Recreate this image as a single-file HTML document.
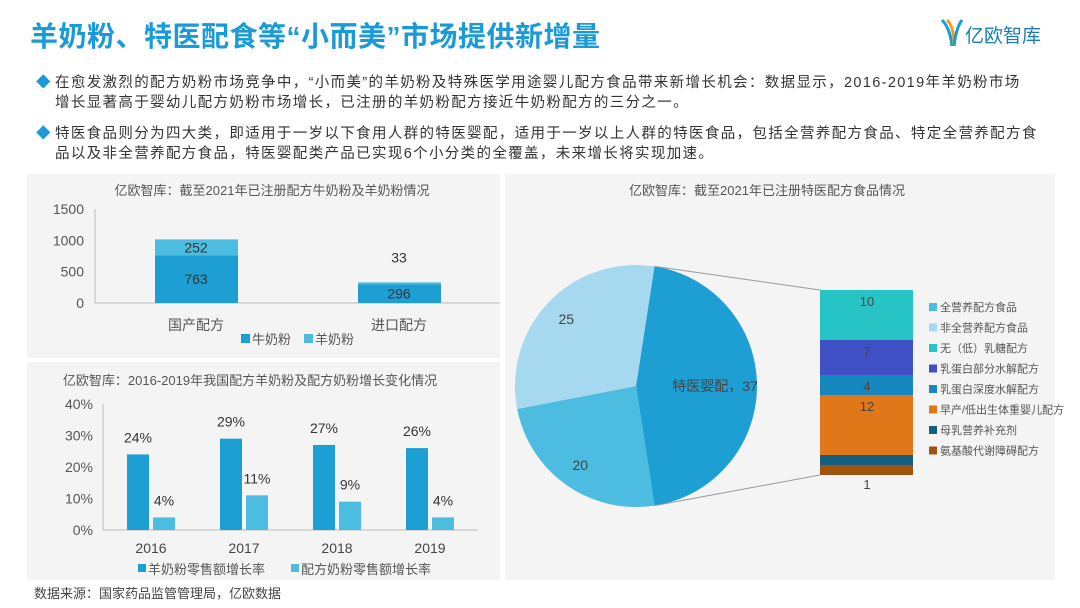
<!DOCTYPE html>
<html><head><meta charset="utf-8">
<style>
body{margin:0;width:1080px;height:608px;background:#fff;font-family:"Liberation Sans","Noto Sans CJK SC",sans-serif;overflow:hidden;position:relative;color:#333}
.abs{position:absolute}
.title{left:30px;top:15px;font-size:28px;font-weight:bold;color:#1a9ad6;letter-spacing:0.5px;white-space:nowrap}
.bul{left:36px;font-size:14.5px;line-height:20px;color:#333;width:1040px;white-space:nowrap;letter-spacing:1.35px}
.bul span.d{color:#1a9ad6;position:absolute;left:0;top:0}
.bul div{margin-left:19px}
.panel{background:#f4f4f4}
svg text{font-family:"Liberation Sans","Noto Sans CJK SC",sans-serif}
</style></head><body>
<div class="abs title">羊奶粉、特医配食等“小而美”市场提供新增量</div>
<div class="abs" style="left:940px;top:18px;width:115px;height:30px">
<svg width="115" height="30"><path d="M2 2 Q10 10 12 28" stroke="#1a9ad6" stroke-width="3" fill="none"/><path d="M7 2 Q14 8 14 28" stroke="#f0a020" stroke-width="3" fill="none"/><path d="M22 2 Q16 10 14 28" stroke="#1a9ad6" stroke-width="3" fill="none"/><text x="25" y="24" font-size="19" fill="#1a7ab8">亿欧智库</text></svg></div>
<div class="abs bul" style="top:73px"><span class="d">◆</span><div>在愈发激烈的配方奶粉市场竞争中，“小而美”的羊奶粉及特殊医学用途婴儿配方食品带来新增长机会：数据显示，2016-2019年羊奶粉市场<br>增长显著高于婴幼儿配方奶粉市场增长，已注册的羊奶粉配方接近牛奶粉配方的三分之一。</div></div>
<div class="abs bul" style="top:124px"><span class="d">◆</span><div>特医食品则分为四大类，即适用于一岁以下食用人群的特医婴配，适用于一岁以上人群的特医食品，包括全营养配方食品、特定全营养配方食<br>品以及非全营养配方食品，特医婴配类产品已实现6个小分类的全覆盖，未来增长将实现加速。</div></div>

<div class="abs panel" style="left:27px;top:174px;width:473px;height:184px"></div>
<div class="abs panel" style="left:27px;top:362px;width:473px;height:218px"></div>
<div class="abs panel" style="left:505px;top:174px;width:550px;height:406px"></div>
<div class="abs" style="left:34px;top:583px;font-size:13px;color:#444">数据来源：国家药品监管管理局，亿欧数据</div>

<svg class="abs" style="left:0;top:0" width="1080" height="608" id="charts"></svg>
<script>
// Chart 1
const c1Cats=["国产配方","进口配方"];
const c1Cow=[763,296];
const c1Goat=[252,33];
const c1Ticks=[0,500,1000,1500];
// Chart 2
const c2Years=["2016","2017","2018","2019"];
const c2Goat=[24,29,27,26];
const c2Formula=[4,11,9,4];
const c2Ticks=[0,10,20,30,40];
// Pie (clockwise from top-right)
const pieLabels=["特医婴配","20","25"];
const pieVals=[37,20,25];
// Stack breakdown (bottom to top)
const stackNames=["氨基酸代谢障碍配方","母乳营养补充剂","早产/低出生体重婴儿配方","乳蛋白深度水解配方","乳蛋白部分水解配方","无（低）乳糖配方"];
const stackVals=[1,2,12,4,7,10];
const legendNames=["全营养配方食品","非全营养配方食品","无（低）乳糖配方","乳蛋白部分水解配方","乳蛋白深度水解配方","早产/低出生体重婴儿配方","母乳营养补充剂","氨基酸代谢障碍配方"];

const svg=document.getElementById('charts');
const NS="http://www.w3.org/2000/svg";
function mk(tag,attrs,parent){const e=document.createElementNS(NS,tag);for(const k in attrs)e.setAttribute(k,attrs[k]);(parent||svg).appendChild(e);return e;}
function txt(x,y,s,size,fill,anchor){const t=mk('text',{x:x,y:y,'font-size':size||13,fill:fill||'#555','text-anchor':anchor||'middle'});t.textContent=s;return t;}
const DARK="#1e9fd4",LIGHT="#4cbde0";

// ---- Chart 1
let t=txt(272,195,"亿欧智库：截至2021年已注册配方牛奶粉及羊奶粉情况",13,"#555");


const y1=v=>303-v*(94/1500);
mk('line',{x1:95,y1:y1(0),x2:500,y2:y1(0),stroke:'#bbb'});
mk('line',{x1:95,y1:y1(1500),x2:95,y2:y1(0),stroke:'#bbb'});
c1Ticks.forEach(v=>{const l=txt(84,y1(v)+5,String(v),14,"#555","end");

});
const x1=[155,358];
c1Cats.forEach((c,i)=>{
 const b=mk('rect',{x:x1[i],y:y1(c1Cow[i]),width:83,height:y1(0)-y1(c1Cow[i]),fill:DARK});
 
 
 const g=mk('rect',{x:x1[i],y:y1(c1Cow[i]+c1Goat[i]),width:83,height:y1(c1Cow[i])-y1(c1Cow[i]+c1Goat[i]),fill:LIGHT});
 
 
 txt(x1[i]+41,(y1(c1Cow[i])+y1(0))/2+5,String(c1Cow[i]),14,"#333");
 const gy=(c1Goat[i]<100)?y1(c1Cow[i]+c1Goat[i])-20:(y1(c1Cow[i]+c1Goat[i])+y1(c1Cow[i]))/2+5;
 txt(x1[i]+41,gy,String(c1Goat[i]),14,"#333");
 const cl=txt(x1[i]+41,330,c,14,"#555");
 
 
});
mk('rect',{x:241,y:334,width:9,height:9,fill:DARK});txt(252,344,"牛奶粉",13,"#555","start");
mk('rect',{x:304,y:334,width:9,height:9,fill:LIGHT});txt(315,344,"羊奶粉",13,"#555","start");

// ---- Chart 2
t=txt(250,385,"亿欧智库：2016-2019年我国配方羊奶粉及配方奶粉增长变化情况",13,"#555");


const y2=v=>530-v*(126/40);
mk('line',{x1:103,y1:y2(0),x2:478,y2:y2(0),stroke:'#bbb'});
mk('line',{x1:103,y1:y2(40),x2:103,y2:y2(0),stroke:'#bbb'});
c2Ticks.forEach(v=>{const l=txt(93,y2(v)+5,v+"%",14,"#555","end");

});
c2Years.forEach((yr,i)=>{
 const gx=127+i*93;
 const a=mk('rect',{x:gx,y:y2(c2Goat[i]),width:22,height:y2(0)-y2(c2Goat[i]),fill:DARK});
 
 
 const b=mk('rect',{x:gx+26,y:y2(c2Formula[i]),width:22,height:y2(0)-y2(c2Formula[i]),fill:LIGHT});
 
 
 txt(gx+11,y2(c2Goat[i])-12,c2Goat[i]+"%",14,"#333");
 txt(gx+37,y2(c2Formula[i])-12,c2Formula[i]+"%",14,"#333");
 const xl=txt(gx+24,553,yr,14,"#444");
 
 
});
mk('rect',{x:138,y:564,width:8,height:8,fill:DARK});txt(148,574,"羊奶粉零售额增长率",13,"#555","start");
mk('rect',{x:291,y:564,width:8,height:8,fill:LIGHT});txt(301,574,"配方奶粉零售额增长率",13,"#555","start");

// ---- Pie
t=txt(767,195,"亿欧智库：截至2021年已注册特医配方食品情况",13,"#555");


const cx=636,cy=386,r=121;
const pieColors=["#1e9fd4","#4cbde0","#a6d9f0"];
const tot=pieVals.reduce((a,b)=>a+b,0);
let ang=-pieVals[0]/tot*Math.PI;
const pt=(a,rr)=>[cx+rr*Math.cos(a),cy+rr*Math.sin(a)];
const sliceEnds=[];
pieVals.forEach((v,i)=>{
 const da=v/tot*2*Math.PI;const a0=ang,a1=ang+da;
 const p0=pt(a0,r),p1=pt(a1,r);
 const p=mk('path',{d:`M${cx},${cy}L${p0[0]},${p0[1]}A${r},${r} 0 ${da>Math.PI?1:0} 1 ${p1[0]},${p1[1]}Z`,fill:pieColors[i]});
 
 
 sliceEnds.push([p0,p1]);
 const m=(a0+a1)/2;const lp=pt(m,i==0?80:r*0.8);
 txt(i==0?715:lp[0],lp[1]+5,i==0?pieLabels[0]+"，"+v:String(v),14,"#444");
 ang=a1;
});
// stacked bar
const sTop=290,sBot=470,sx=820,sw=93;
const sTot=stackVals.reduce((a,b)=>a+b,0);
const sy=v=>sBot-v*(sBot-sTop)/sTot;
const stackColors=["#a0530f","#145f7d","#e0781a","#1788bf","#3f4fc4","#26c4c4"];
mk('line',{x1:sliceEnds[0][0][0],y1:sliceEnds[0][0][1],x2:sx,y2:sTop,stroke:'#999'});
mk('line',{x1:sliceEnds[0][1][0],y1:sliceEnds[0][1][1],x2:sx,y2:sBot+5,stroke:'#999'});
let acc=0;
stackVals.forEach((v,i)=>{
 const rc=mk('rect',{x:sx,y:sy(acc+v),width:sw,height:sy(acc)-sy(acc+v)+(i==0?5:0),fill:stackColors[i]});
 
 
 if(v>=4)txt(sx+47,sy(acc+v)+16,String(v),13,"#444");
 else if(v==1)txt(sx+47,sBot+19,String(v),13,"#444");
 acc+=v;
});
const legColors=["#4cbde0","#a6d9f0","#26c4c4","#3f4fc4","#1788bf","#e0781a","#145f7d","#a0530f"];
legendNames.forEach((n,i)=>{
 const ly=311+i*20.5;
 mk('rect',{x:929,y:ly-8,width:8,height:8,fill:legColors[i]});
 const l=txt(940,ly,n,11,"#555","start");
 
 
});
</script>
</body></html>
